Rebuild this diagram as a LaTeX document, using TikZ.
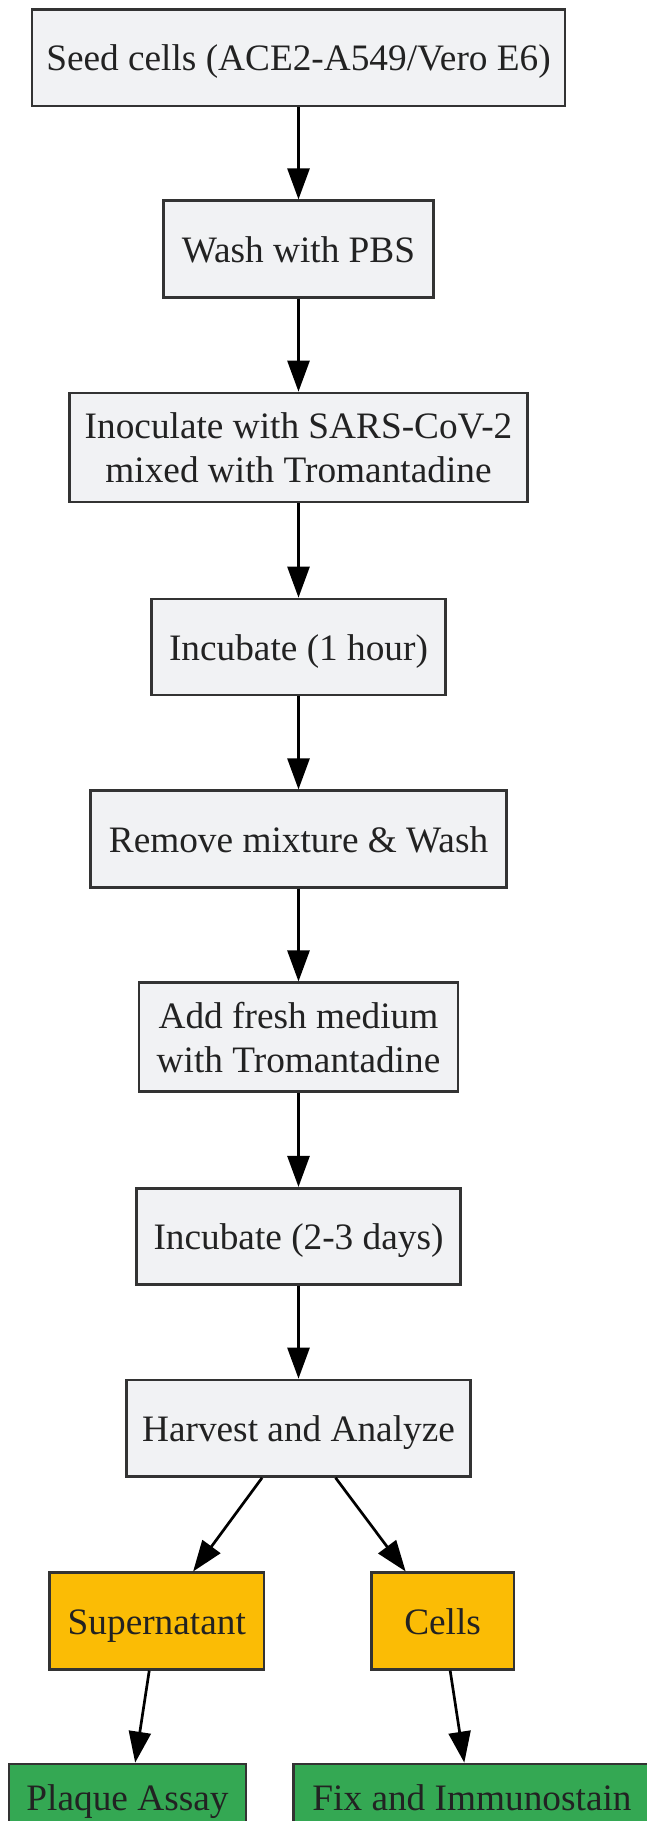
\documentclass[tikz,border=0pt]{standalone}
\usepackage{fontspec}
\setmainfont{Liberation Serif}
\usetikzlibrary{arrows.meta}
\definecolor{greyfill}{HTML}{F1F2F4}
\definecolor{yellowfill}{HTML}{FBBC05}
\definecolor{greenfill}{HTML}{34A853}
\definecolor{bordercol}{HTML}{333333}
\definecolor{textcol}{HTML}{222222}
\tikzset{
  box/.style={draw=bordercol, line width=2.7pt, rectangle, inner sep=0pt,
    font=\fontsize{37.3}{44}\selectfont, text=textcol, align=center},
  oneline/.style={text height=26pt, text depth=0pt},
  greybox/.style={box, fill=greyfill},
  yellowbox/.style={box, fill=yellowfill, oneline},
  greenbox/.style={box, fill=greenfill, text height=24.5pt, text depth=29pt},
  arr/.style={draw=black, line width=2.7pt, -{Triangle[length=31pt, width=22pt]}},
}
\begin{document}
\begin{tikzpicture}[x=1pt, y=-1pt]
\useasboundingbox (0,0) rectangle (647,1821);
\clip (0,0) rectangle (647,1821);
\node[greybox, oneline, minimum width=533pt, minimum height=96.5pt] (n1) at (298.5,57.6) {Seed cells (ACE2-A549/Vero E6)};
\node[greybox, oneline, minimum width=270.5pt, minimum height=96.5pt] (n2) at (298.5,249) {Wash with PBS};
\node[greybox, minimum width=458pt, minimum height=109pt] (n3) at (298.5,447.5) {Inoculate with SARS-CoV-2\\mixed with Tromantadine};
\node[greybox, oneline, minimum width=293.5pt, minimum height=96pt] (n4) at (298.5,647) {Incubate (1 hour)};
\node[greybox, oneline, minimum width=416.5pt, minimum height=96.5pt] (n5) at (298.5,839) {Remove mixture \& Wash};
\node[greybox, minimum width=319pt, minimum height=109pt] (n6) at (298.5,1037.3) {Add fresh medium\\with Tromantadine};
\node[greybox, oneline, minimum width=324pt, minimum height=96.4pt] (n7) at (298.5,1236.5) {Incubate (2-3 days)};
\node[greybox, oneline, minimum width=344.5pt, minimum height=96.4pt] (n8) at (298.5,1428.2) {Harvest and Analyze};
\node[yellowbox, minimum width=214.5pt, minimum height=96.4pt] (n9) at (156.8,1621) {Supernatant};
\node[yellowbox, minimum width=142.5pt, minimum height=96.4pt] (n10) at (442.6,1621) {Cells};
\node[greenbox, minimum width=237pt, minimum height=98pt] (n11) at (127.5,1813) {Plaque Assay};
\node[greenbox, minimum width=357pt, minimum height=98pt] (n12) at (472,1813) {Fix and Immunostain};
\draw[arr] (n1) -- (n2);
\draw[arr] (n2) -- (n3);
\draw[arr] (n3) -- (n4);
\draw[arr] (n4) -- (n5);
\draw[arr] (n5) -- (n6);
\draw[arr] (n6) -- (n7);
\draw[arr] (n7) -- (n8);
\draw[arr] (n8) -- (n9);
\draw[arr] (n8) -- (n10);
\draw[arr] (n9) -- (n11);
\draw[arr] (n10) -- (n12);
\end{tikzpicture}
\end{document}
